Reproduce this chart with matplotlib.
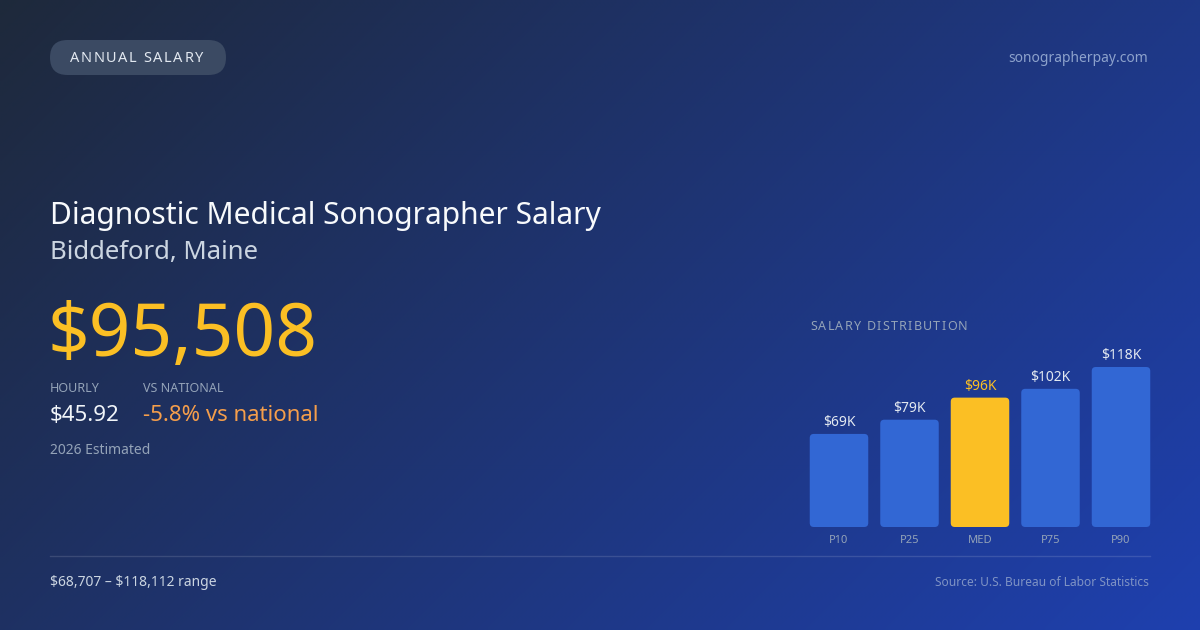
import numpy as np
import matplotlib
matplotlib.use("Agg")
import matplotlib.pyplot as plt
from matplotlib.patches import FancyBboxPatch

plt.rcParams['font.family'] = ['Noto Sans', 'DejaVu Sans']
plt.rcParams['text.parse_math'] = False

# ---- data ----
categories = ["P10", "P25", "MED", "P75", "P90"]
salaries = [68707, 79200, 95508, 102000, 118112]
value_labels = ["$69K", "$79K", "$96K", "$102K", "$118K"]
highlight = "MED"

badge_text = "ANNUAL SALARY"
site_text = "sonographerpay.com"
title_text = "Diagnostic Medical Sonographer Salary"
location_text = "Biddeford, Maine"
headline_value = "$95,508"
hourly_label = "HOURLY"
hourly_value = "$45.92"
national_label = "VS NATIONAL"
national_value = "-5.8% vs national"
estimate_text = "2026 Estimated"
range_text = "$68,707 \u2013 $118,112 range"
source_text = "Source: U.S. Bureau of Labor Statistics"
chart_title = "SALARY DISTRIBUTION"

W, H = 1200, 630
fig = plt.figure(figsize=(12, 6.3), dpi=100)

# ---- background in pixel coords ----
bg = fig.add_axes([0, 0, 1, 1])
bg.set_xlim(0, W)
bg.set_ylim(H, 0)
bg.axis('off')
c0 = np.array([30, 41, 59]) / 255.0
c1 = np.array([30, 64, 175]) / 255.0
yy, xx = np.mgrid[0:H:4, 0:W:4]
t = (xx + yy) / (W + H)
img = c0[None, None, :] * (1 - t[..., None]) + c1[None, None, :] * t[..., None]
bg.imshow(img, extent=[0, W, H, 0], aspect='auto', interpolation='bilinear', zorder=0)

renderer = fig.canvas.get_renderer()


def spaced_text(ax, x, y, s, size, color, spacing, **kw):
    cur = x
    for ch in s:
        tt = ax.text(cur, y, ch, fontsize=size, color=color, va='center', ha='left', **kw)
        w = tt.get_window_extent(renderer=renderer).width
        if ch == ' ':
            w = size * 100 / 72 * 0.26
        cur += w + spacing
    return cur


# badge pill
pill = FancyBboxPatch((50, 40), 176, 35, boxstyle="round,pad=0,rounding_size=17.5",
                      fc='#3b4a63', ec='none', zorder=2, mutation_aspect=1)
bg.add_patch(pill)
spaced_text(bg, 70, 58, badge_text, 10.5, '#e2e8f0', 1.55, zorder=3)

bg.text(1148, 58, site_text, fontsize=10, color='#8da2cc', ha='right', va='center')

bg.text(50, 224, title_text, fontsize=21.6, color='#f8fafc', ha='left', va='baseline')
bg.text(50, 259, location_text, fontsize=18.5, color='#cbd5e1', ha='left', va='baseline')
bg.text(47, 356, headline_value, fontsize=52.5, color='#fbbf24', ha='left', va='baseline')

bg.text(50, 392, hourly_label, fontsize=9, color='#94a3b8', ha='left', va='baseline')
bg.text(143, 392, national_label, fontsize=9, color='#94a3b8', ha='left', va='baseline')
bg.text(50, 421, hourly_value, fontsize=16, color='#f1f5f9', ha='left', va='baseline')
bg.text(143, 421, national_value, fontsize=16, color='#f59e4b', ha='left', va='baseline')
bg.text(50, 454, estimate_text, fontsize=10, color='#94a3b8', ha='left', va='baseline')

bg.plot([50, 1150], [556, 556], color='white', alpha=0.13, lw=1)
bg.text(50, 582, range_text, fontsize=10, color='#cbd5e1', ha='left', va='center')
bg.text(1149, 582, source_text, fontsize=8.6, color='#7f93c4', ha='right', va='center')

spaced_text(bg, 810, 326, chart_title, 9, '#94a3b8', 1.25)

# ---- bar chart ----
vals_k = [v / 1000 for v in salaries]
ax_bottom, ax_top = 527, 367
ax = fig.add_axes([810 / W, (H - ax_bottom) / H, 340 / W, (ax_bottom - ax_top) / H])
ax.patch.set_alpha(0)
ax.axis('off')
pitch = 70.5
bw = 58.5 / pitch
x = np.arange(len(categories))
half = (340 / pitch - (len(categories) - 1)) / 2
ax.set_xlim(-half, len(categories) - 1 + half)
ax.set_ylim(0, max(vals_k))
bars = ax.bar(x, vals_k, width=bw, color='none')
px_per_y = (ax_bottom - ax_top) / max(vals_k)
aspect = pitch / px_per_y
for b, cat, lbl, v in zip(bars, categories, value_labels, vals_k):
    col = '#fbbf24' if cat == highlight else '#3267d4'
    p = FancyBboxPatch((b.get_x(), 0), b.get_width(), b.get_height(),
                       boxstyle="round,pad=0,rounding_size=%f" % (4 / pitch),
                       mutation_aspect=aspect, fc=col, ec='none', clip_on=False)
    ax.add_patch(p)
    b.set_visible(False)
    tc = '#fbbf24' if cat == highlight else '#e2e8f0'
    ax.annotate(lbl, (b.get_x() + b.get_width() / 2, v), xytext=(0, 8 * 0.72),
                textcoords='offset points', ha='center', va='baseline',
                fontsize=10, color=tc, annotation_clip=False)
    ax.annotate(cat, (b.get_x() + b.get_width() / 2, 0), xytext=(0, -16 * 0.72),
                textcoords='offset points', ha='center', va='baseline',
                fontsize=8, color='#94a3b8', annotation_clip=False)

fig.savefig('out.png', dpi=100)
